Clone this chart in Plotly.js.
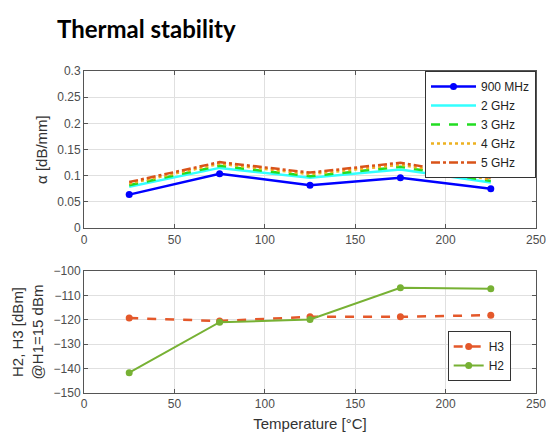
<!DOCTYPE html>
<html><head><meta charset="utf-8">
<script src="https://cdn.plot.ly/plotly-3.0.1.min.js"></script>
<style>body{margin:0;background:#fff}#c{width:546px;height:443px}</style>
</head><body><div id="c"></div>
<script>
const temps = [25, 75, 125, 175, 225];
const a900 = [0.064, 0.104, 0.082, 0.096, 0.075];
const a2 = [0.079, 0.115, 0.096, 0.112, 0.087];
const a3 = [0.082, 0.119, 0.099, 0.117, 0.090];
const a4 = [0.085, 0.123, 0.103, 0.121, 0.093];
const a5 = [0.088, 0.126, 0.106, 0.125, 0.096];
const h3 = [-119.3, -120.5, -118.8, -118.8, -118.1];
const h2 = [-141.7, -121.0, -119.9, -106.9, -107.3];

const tickFont = {family: 'Liberation Sans, Arial', size: 12, color: '#4d4d4d'};
const axBase = {showline: true, linecolor: '#555', linewidth: 1, mirror: 'ticks', ticks: 'inside', ticklen: 4,
  tickcolor: '#555', showgrid: true, gridcolor: '#e0e0e0', zeroline: false, tickfont: tickFont, ticklabeloverflow: 'allow'};

const traces = [
  {x: temps, y: a900, name: '900 MHz', mode: 'lines+markers', line: {color: '#0000ff', width: 2.5}, marker: {size: 7, color: '#0000ff'}, xaxis: 'x', yaxis: 'y', legend: 'legend'},
  {x: temps, y: a2, name: '2 GHz', mode: 'lines', line: {color: '#33ffff', width: 2.5}, xaxis: 'x', yaxis: 'y', legend: 'legend'},
  {x: temps, y: a3, name: '3 GHz', mode: 'lines', line: {color: '#22dd22', width: 2.5, dash: 'dash'}, xaxis: 'x', yaxis: 'y', legend: 'legend'},
  {x: temps, y: a4, name: '4 GHz', mode: 'lines', line: {color: '#edb120', width: 2.5, dash: 'dot'}, xaxis: 'x', yaxis: 'y', legend: 'legend'},
  {x: temps, y: a5, name: '5 GHz', mode: 'lines', line: {color: '#d95319', width: 2.5, dash: 'dashdot'}, xaxis: 'x', yaxis: 'y', legend: 'legend'},
  {x: temps, y: h3, name: 'H3', mode: 'lines+markers', line: {color: '#e4582a', width: 2.5, dash: 'dash'}, marker: {size: 7, color: '#e4582a'}, xaxis: 'x2', yaxis: 'y2', legend: 'legend2'},
  {x: temps, y: h2, name: 'H2', mode: 'lines+markers', line: {color: '#77b134', width: 2}, marker: {size: 7, color: '#77b134'}, xaxis: 'x2', yaxis: 'y2', legend: 'legend2'}
];

const layout = {
  width: 546, height: 443,
  margin: {l: 84, r: 10, t: 71, b: 50},
  paper_bgcolor: '#fff', plot_bgcolor: '#fff',
  title: {text: '<b>Thermal stability</b>', font: {family: 'Lato, Noto Sans', size: 24, color: '#000'}, x: 57/546, xanchor: 'left', y: 1 - 30/443, yanchor: 'middle'},
  xaxis: Object.assign({}, axBase, {domain: [0, 1], range: [0, 250], dtick: 50, anchor: 'y'}),
  yaxis: Object.assign({}, axBase, {domain: [0.512, 1], range: [0, 0.3], dtick: 0.05, anchor: 'x',
    title: {text: 'α [dB/mm]', font: {family: 'Liberation Sans, Arial', size: 15, color: '#333'}, standoff: 5}}),
  xaxis2: Object.assign({}, axBase, {domain: [0, 1], range: [0, 250], dtick: 50, anchor: 'y2',
    title: {text: 'Temperature [°C]', font: {family: 'Liberation Sans, Arial', size: 15, color: '#333'}, standoff: 8}}),
  yaxis2: Object.assign({}, axBase, {domain: [0, 0.379], range: [-150, -100], dtick: 10, anchor: 'x2',
    title: {text: 'H2, H3 [dBm]<br>@H1=15 dBm', font: {family: 'Liberation Sans, Arial', size: 15, color: '#333'}, standoff: 6}}),
  legend: {x: 1, xanchor: 'right', y: 1, yanchor: 'top', bgcolor: '#fff', bordercolor: '#333', borderwidth: 1,
    font: {family: 'Liberation Sans, Arial', size: 12, color: '#222'}, tracegroupgap: 0, itemwidth: 45},
  legend2: {x: 0.944, xanchor: 'right', y: 0.037, yanchor: 'bottom', bgcolor: '#fff', bordercolor: '#333', borderwidth: 1,
    font: {family: 'Liberation Sans, Arial', size: 12, color: '#222'}, itemwidth: 30},
  showlegend: true
};
Plotly.newPlot('c', traces, layout, {displayModeBar: false, staticPlot: true});
</script></body></html>
